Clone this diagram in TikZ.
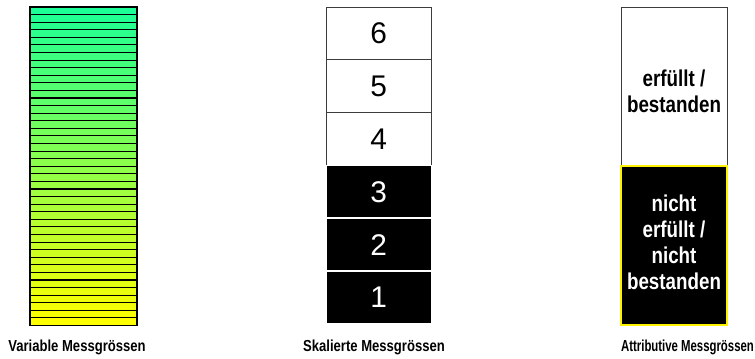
\documentclass[tikz,border=0pt]{standalone}
\usepackage{fontspec}
\setmainfont{Liberation Sans}
\newfontfamily\nb[FakeStretch=0.82]{Liberation Sans}
\definecolor{frame}{RGB}{60,60,60}
\begin{document}
\begin{tikzpicture}[x=1bp,y=-1bp,
  stripe/.style={draw=black,line width=1.1bp,minimum width=107bp,minimum height=7.58bp,inner sep=0pt,outer sep=0pt},
  whitebox/.style={draw=frame,line width=0.8bp,fill=white,minimum width=105.5bp,minimum height=52.8bp,inner sep=0pt,outer sep=0pt,font=\fontsize{30}{32}\selectfont},
  blackbox/.style={draw=white,line width=1.5bp,fill=black,text=white,minimum width=105.5bp,minimum height=52.8bp,inner sep=0pt,outer sep=0pt,font=\fontsize{30}{32}\selectfont},
  attrtext/.style={font=\nb\bfseries\fontsize{23}{26}\selectfont,align=center,inner sep=0pt,outer sep=0pt},
  caption/.style={font=\nb\bfseries\fontsize{16}{18}\selectfont,anchor=base,inner sep=0pt}]
\useasboundingbox (0,0) rectangle (755,358);
% variable (gradient stripes)
\foreach \i in {0,...,41}{
  \pgfmathtruncatemacro{\rr}{28+227*\i/41}
  \pgfmathtruncatemacro{\bb}{150-150*\i/41}
  \definecolor{stripecol}{RGB}{\rr,255,\bb}
  \node[stripe,fill=stripecol] (s\i) at (83.5,{7+7.583*(\i+0.5)}) {};
}
\draw[line width=1.6bp] (30,7) rectangle (137,325.5);
% scaled
\node[whitebox] (b6) at (378.7,{7+52.8*0.5}) {6};
\node[whitebox] (b5) at (378.7,{7+52.8*1.5}) {5};
\node[whitebox] (b4) at (378.7,{7+52.8*2.5}) {4};
\node[blackbox] (b3) at (378.7,{7+52.8*3.5}) {3};
\node[blackbox] (b2) at (378.7,{7+52.8*4.5}) {2};
\node[blackbox] (b1) at (378.7,{7+52.8*5.5}) {1};
% attributive
\node[draw=frame,line width=0.8bp,fill=white,minimum width=106bp,minimum height=159bp,inner sep=0pt] (ok) at (674,86.5) {};
\node[attrtext] (okt) at (674,91) {erfüllt /\\bestanden};
\node[draw=yellow,line width=1.3bp,fill=black,minimum width=106bp,minimum height=159bp,inner sep=0pt] (nok) at (674,245.5) {};
\node[attrtext,text=white] (nokt) at (674,242) {nicht\\erfüllt /\\nicht\\bestanden};
% captions
\node[caption] (c1) at (77,351.5) {Variable Messgrössen};
\node[caption] (c2) at (374,351.5) {Skalierte Messgrössen};
\node[caption] (c3) at (687.5,351.5) {\scalebox{0.87}[1]{Attributive Messgrössen}};
\end{tikzpicture}
\end{document}
